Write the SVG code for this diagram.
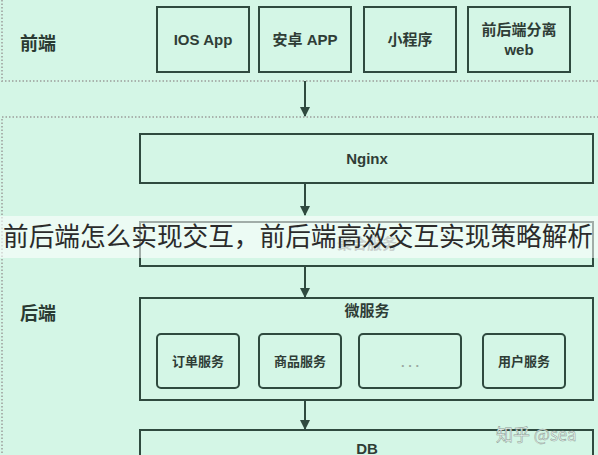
<svg xmlns="http://www.w3.org/2000/svg" width="598" height="455" viewBox="0 0 598 455">
  <defs>
    <marker id="ah" viewBox="0 0 10 10" refX="9" refY="5" markerWidth="10" markerHeight="10" markerUnits="userSpaceOnUse" orient="auto">
      <path d="M0,0 L10,5 L0,10 z" fill="#2f4a3f"/>
    </marker>
    <style>
      .zone { fill: none; stroke: #a9b3ad; stroke-width: 2; stroke-dasharray: 1.5 2; }
      .box { fill: none; stroke: #2f4a3f; stroke-width: 2; }
      .rbox { fill: none; stroke: #2f4a3f; stroke-width: 2; }
      .t { font-family: "Liberation Sans", "Noto Sans CJK SC", sans-serif; font-size: 15px; font-weight: bold; fill: #2f3d36; text-anchor: middle; }
      .ts { font-family: "Liberation Sans", "Noto Sans CJK SC", sans-serif; font-size: 13px; font-weight: bold; fill: #2f3d36; text-anchor: middle; }
      .zl { font-family: "Noto Sans CJK SC", sans-serif; font-size: 18px; font-weight: bold; fill: #2a3a32; }
      .conn { stroke: #2f4a3f; stroke-width: 2; fill: none; marker-end: url(#ah); }
    </style>
  </defs>
  <rect width="598" height="455" fill="#d4f6e6"/>

  <!-- zones -->
  <rect class="zone" x="2" y="-10" width="620" height="91"/>
  <rect class="zone" x="2" y="117" width="620" height="360"/>
  <text class="zl" x="20" y="50">前端</text>
  <text class="zl" x="20" y="320">后端</text>

  <g id="ios"><rect class="box" x="157" y="7" width="92" height="65"/><text class="t" x="203" y="45">IOS App</text></g>
  <g id="android"><rect class="box" x="259" y="7" width="92" height="65"/><text class="t" x="305" y="45">安卓 APP</text></g>
  <g id="miniprogram"><rect class="box" x="364" y="7" width="92" height="65"/><text class="t" x="410" y="45">小程序</text></g>
  <g id="web"><rect class="box" x="468" y="7" width="102" height="65"/><text class="t" x="519" y="35">前后端分离</text><text class="t" x="519" y="55">web</text></g>

  <g id="nginx"><rect class="box" x="140" y="134" width="453" height="49"/><text class="t" x="367" y="164">Nginx</text></g>
  <g id="aggregate"><rect class="box" x="140" y="222" width="453" height="44"/><text class="t" x="367" y="249" style="fill:#8a9a92">聚合服务</text></g>
  <g id="microservice">
    <rect class="box" x="140" y="298" width="453" height="102"/>
    <text class="t" x="367" y="316">微服务</text>
  </g>
  <g id="order"><rect class="rbox" x="157" y="334" width="82" height="54" rx="4"/><text class="ts" x="198" y="366">订单服务</text></g>
  <g id="product"><rect class="rbox" x="259" y="334" width="82" height="54" rx="4"/><text class="ts" x="300" y="366">商品服务</text></g>
  <g id="more"><rect class="rbox" x="359" y="334" width="102" height="54" rx="4"/><text class="ts" x="410" y="367" style="fill:#9aa8a0">. . .</text></g>
  <g id="user"><rect class="rbox" x="483" y="334" width="82" height="54" rx="4"/><text class="ts" x="524" y="366">用户服务</text></g>
  <g id="db"><rect class="box" x="140" y="430" width="453" height="40"/><text class="t" x="367" y="454">DB</text></g>

  <g id="connectors">
    <line class="conn" x1="305" y1="81" x2="305" y2="116"/>
    <line class="conn" x1="305" y1="184" x2="305" y2="215"/>
    <line class="conn" x1="305" y1="267" x2="305" y2="297"/>
    <line class="conn" x1="305" y1="401" x2="305" y2="429"/>
  </g>

  <!-- overlay title banner -->
  <rect x="0" y="216" width="598" height="42" fill="#ffffff" opacity="0.55"/>
  <text x="3" y="246" font-family="Noto Sans CJK SC, sans-serif" font-size="26" fill="#2b2b2b" textLength="590" lengthAdjust="spacingAndGlyphs">前后端怎么实现交互，前后端高效交互实现策略解析</text>

  <!-- watermark -->
  <text x="496" y="441" font-family="Noto Sans CJK SC, sans-serif" font-size="17" fill="#eef6f2" stroke="#8a9a92" stroke-width="0.5">知乎 @sea</text>
</svg>
